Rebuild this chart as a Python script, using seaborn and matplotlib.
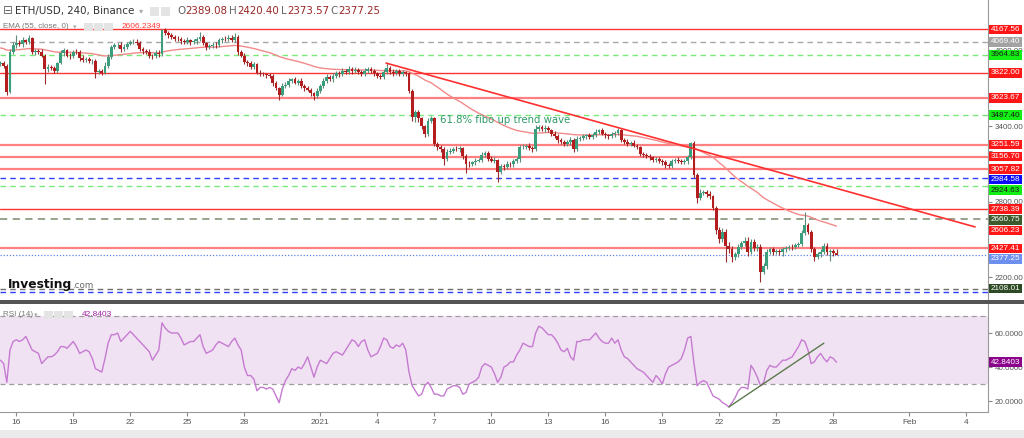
import numpy as np
import pandas as pd
import matplotlib
matplotlib.use("Agg")
import matplotlib.pyplot as plt
import seaborn as sns
from matplotlib.patches import Rectangle

# ---------------- data ----------------
start_time = "2021-12-15 04:00"
ref_day = "2021-12-16"
first_open = 3890.0

closes = [
    3900, 3880, 3670, 3990, 4040, 4060,
    4050, 4080, 4070, 4100, 3985, 3995,
    3990, 3960, 3850, 3870, 3860, 3840,
    3900, 3980, 4000, 3960, 3955, 3990,
    3985, 3940, 3925, 3930, 3915, 3920,
    3830, 3835, 3820, 3880, 3950, 4030,
    4040, 4045, 4010, 4030, 4055, 4065,
    4070, 4060, 4010, 3995, 3990, 3960,
    3955, 3980, 3970, 4160, 4140, 4120,
    4110, 4095, 4090, 4075, 4070, 4080,
    4065, 4075, 4090, 4110, 4060, 4030,
    4035, 4045, 4040, 4080, 4095, 4090,
    4100, 4085, 4110, 3985, 3960, 3910,
    3900, 3870, 3890, 3825, 3815, 3810,
    3805, 3800, 3740, 3700, 3650, 3720,
    3725, 3760, 3770, 3745, 3760, 3720,
    3700, 3690, 3660, 3640, 3680, 3720,
    3760, 3790, 3770, 3800, 3820, 3810,
    3840, 3830, 3850, 3835, 3845, 3830,
    3815, 3840, 3850, 3835, 3820, 3800,
    3790, 3830, 3860, 3830, 3820, 3835,
    3815, 3830, 3820, 3680, 3470, 3510,
    3460, 3400, 3340, 3440, 3460, 3260,
    3230, 3220, 3140, 3190, 3205, 3220,
    3215, 3225, 3160, 3100, 3095, 3110,
    3125, 3130, 3170, 3185, 3140, 3125,
    3130, 3035, 3080, 3075, 3100, 3095,
    3120, 3135, 3230, 3235, 3245, 3225,
    3215, 3380, 3390, 3375, 3385, 3365,
    3340, 3320, 3285, 3275, 3260, 3270,
    3290, 3220, 3300, 3305, 3320, 3325,
    3315, 3330, 3355, 3365, 3340, 3325,
    3320, 3335, 3345, 3365, 3290, 3275,
    3260, 3265, 3245, 3235, 3180, 3170,
    3160, 3150, 3130, 3135, 3120, 3110,
    3090, 3085, 3120, 3130, 3125, 3110,
    3120, 3150, 3265, 3010, 2830, 2870,
    2875, 2860, 2840, 2750, 2575, 2500,
    2560, 2450, 2420, 2360, 2380, 2440,
    2470, 2490, 2400, 2480, 2430, 2440,
    2240, 2290, 2400, 2420, 2400, 2405,
    2395, 2420, 2430, 2440, 2435, 2455,
    2465, 2550, 2610, 2560, 2420, 2360,
    2380, 2400, 2450, 2400, 2410, 2389.08,
    2377.25,
]

wick_up = [
    20, 15, 10, 25, 30, 60,
    20, 25, 15, 25, 10, 20,
    15, 20, 10, 25, 15, 20,
    10, 25, 20, 15, 20, 15,
    20, 15, 25, 15, 20, 15,
    10, 20, 15, 25, 20, 15,
    20, 15, 25, 20, 15, 20,
    25, 20, 15, 20, 15, 20,
    15, 20, 25, 10, 20, 15,
    20, 15, 20, 15, 20, 25,
    15, 20, 20, 40, 15, 10,
    15, 20, 25, 20, 15, 20,
    20, 25, 30, 10, 15, 20,
    15, 20, 15, 10, 20, 15,
    15, 20, 10, 15, 10, 20,
    25, 20, 15, 20, 15, 20,
    15, 20, 15, 10, 20, 15,
    20, 25, 15, 20, 15, 20,
    20, 15, 25, 15, 20, 15,
    15, 20, 15, 20, 15, 10,
    15, 20, 40, 15, 20, 15,
    20, 15, 10, 10, 15, 20,
    20, 15, 10, 25, 20, 10,
    15, 20, 10, 25, 20, 15,
    20, 15, 10, 15, 20, 15,
    20, 15, 25, 20, 15, 20,
    25, 10, 20, 15, 20, 15,
    20, 15, 20, 25, 15, 20,
    15, 30, 20, 15, 20, 15,
    15, 20, 15, 20, 15, 20,
    20, 15, 20, 15, 20, 15,
    20, 15, 20, 15, 20, 15,
    15, 20, 15, 20, 10, 15,
    20, 15, 20, 15, 10, 15,
    15, 20, 15, 20, 15, 15,
    20, 15, 20, 15, 20, 15,
    15, 20, 10, 15, 20, 30,
    20, 15, 20, 15, 15, 20,
    30, 20, 25, 30, 20, 25,
    20, 25, 30, 20, 25, 20,
    20, 25, 20, 15, 20, 15,
    20, 15, 20, 15, 20, 15,
    15, 20, 110, 20, 15, 20,
    20, 25, 20, 20, 15, 15,
    31.32,
]

wick_dn = [
    15, 20, 20, 10, 15, 20,
    15, 20, 15, 20, 15, 20,
    20, 15, 120, 20, 15, 20,
    15, 10, 20, 15, 20, 15,
    15, 20, 15, 20, 15, 20,
    50, 20, 15, 10, 20, 15,
    15, 20, 25, 15, 20, 15,
    15, 20, 15, 20, 15, 20,
    20, 15, 20, 10, 15, 20,
    15, 20, 15, 20, 15, 20,
    20, 15, 20, 15, 20, 25,
    20, 15, 20, 15, 20, 15,
    15, 20, 15, 20, 15, 20,
    20, 15, 20, 15, 20, 15,
    20, 15, 20, 15, 45, 15,
    20, 15, 20, 15, 20, 15,
    20, 15, 20, 30, 15, 20,
    15, 20, 15, 20, 15, 20,
    15, 20, 15, 20, 15, 20,
    20, 15, 20, 15, 20, 15,
    20, 15, 20, 15, 20, 15,
    20, 15, 20, 20, 30, 40,
    30, 20, 25, 20, 15, 20,
    20, 25, 50, 20, 15, 20,
    15, 20, 20, 70, 20, 15,
    20, 15, 20, 15, 20, 15,
    20, 80, 20, 25, 15, 20,
    20, 15, 20, 15, 20, 15,
    20, 15, 20, 15, 20, 15,
    20, 15, 20, 15, 20, 15,
    20, 30, 15, 20, 15, 20,
    15, 20, 15, 20, 15, 20,
    20, 15, 20, 15, 20, 15,
    15, 20, 15, 20, 20, 15,
    15, 20, 15, 20, 15, 20,
    20, 15, 20, 15, 20, 15,
    15, 20, 15, 20, 40, 20,
    20, 25, 20, 20, 30, 30,
    20, 130, 30, 40, 25, 20,
    20, 25, 30, 20, 25, 20,
    80, 20, 25, 20, 25, 20,
    20, 25, 20, 15, 20, 15,
    20, 15, 20, 20, 25, 30,
    20, 25, 20, 25, 70, 20,
    3.68,
]

# RSI(14) values as drawn in the lower panel
rsi_values = [
    44, 42, 31, 50, 55, 56,
    55, 56, 58, 54, 50, 49,
    48, 42, 44, 46, 46, 47,
    49, 52, 52, 51, 53, 55,
    52, 48, 49, 50, 49, 45,
    39, 38, 37, 45, 54, 59,
    59, 60, 55, 57, 59, 61,
    59, 57, 55, 53, 51, 49,
    44, 47, 50, 66, 63, 61,
    60, 60, 60, 57, 53, 54,
    55, 55, 57, 59, 52, 48,
    49, 50, 53, 55, 54, 53,
    52, 55, 57, 53, 50, 40,
    35, 35, 33, 26, 28, 28,
    27, 28, 27, 23, 19, 27,
    32, 35, 39, 38, 40, 39,
    42, 46, 40, 34, 40, 44,
    43, 42, 45, 48, 49, 48,
    47, 50, 53, 56, 55, 52,
    55, 56, 50, 46, 47, 48,
    52, 57, 56, 52, 51, 53,
    52, 54, 50, 37, 29, 26,
    23, 24, 29, 31, 28, 24,
    24, 23, 23, 27, 28, 29,
    29, 28, 24, 25, 30, 31,
    32, 34, 40, 42, 41, 40,
    36, 31, 34, 40, 41, 43,
    43, 47, 50, 54, 53, 52,
    52, 60, 64, 63, 61, 59,
    59, 57, 54, 50, 49, 51,
    46, 44, 55, 55, 56, 56,
    56, 58, 60, 57, 55, 54,
    54, 57, 54, 56, 50, 46,
    45, 43, 41, 39, 38, 37,
    35, 33, 31, 35, 33, 30,
    36, 40, 41, 42, 43, 45,
    50, 57, 58, 42, 29, 31,
    32, 31, 27, 23, 22, 21,
    19, 18, 16.5, 19, 22, 26,
    28, 28, 27, 41, 38, 34,
    29, 31, 38, 41, 40, 40,
    42, 44, 44, 45, 46, 49,
    52, 56, 55, 50, 42, 43,
    46, 48, 45, 43, 46, 45,
    42.8403,
]

ema_seed = 4020.0

level_prices = [4167.56, 4069.40, 3964.83, 3822.00, 3623.67, 3487.40, 3251.59,
                3156.70, 3057.82, 2984.58, 2924.63, 2738.39, 2660.75, 2427.41,
                2377.25, 2108.01, 2082.00]
level_kinds = ["res", "gray", "fib", "res", "res2", "fib", "res2",
               "res2", "res2", "blue", "fib", "res", "olive", "res2",
               "last", "dark", "blue"]
level_labeled = [True] * 16 + [False]
ema_label_value = 2606.23

trend_dates = ["2022-01-04 11:00", "2022-02-04 11:00"]
trend_prices = [3900, 2598]
rsi_trend_dates = ["2022-01-22 12:00", "2022-01-27 12:00"]
rsi_trend_values = [16.5, 54.0]
rsi_last = 42.8403

tick_dates = ["2021-12-16", "2021-12-19", "2021-12-22", "2021-12-25", "2021-12-28",
              "2022-01-01", "2022-01-04", "2022-01-07", "2022-01-10", "2022-01-13",
              "2022-01-16", "2022-01-19", "2022-01-22", "2022-01-25", "2022-01-28",
              "2022-02-01", "2022-02-04"]
tick_texts = ["16", "19", "22", "25", "28", "2021", "4", "7", "10", "13",
              "16", "19", "22", "25", "28", "Feb", "4"]
price_ticks = [2200, 2400, 2600, 2800, 3000, 3200, 3400, 3600, 3800, 4000, 4200]
price_tick_shown = [2200, 2800, 3400, 4000]

fibo_text = "61.8% fibo up trend wave"
fibo_pos = ("2022-01-07 07:00", 3450)

# ---------------- derived series ----------------
ref = pd.Timestamp(ref_day)
def to_day(ts):
    return (pd.to_datetime(ts) - ref) / pd.Timedelta(days=1)

times = pd.date_range(start_time, periods=len(closes), freq="4h")
d = np.asarray(to_day(times), dtype=float)
c = np.array(closes, dtype=float)
o = np.r_[first_open, c[:-1]]
hi = np.maximum(o, c) + np.array(wick_up, dtype=float)
lo = np.minimum(o, c) - np.array(wick_dn, dtype=float)

alpha = 2.0 / 56.0
ema = np.empty_like(c)
ema[0] = ema_seed
for i in range(1, len(c)):
    ema[i] = alpha * c[i] + (1 - alpha) * ema[i - 1]
rsi = np.array(rsi_values, dtype=float)

# ---------------- figure ----------------
sns.set_style("white")
plt.rcParams["font.family"] = ["DejaVu Sans"]
SMALL = ["Liberation Sans", "DejaVu Sans"]

W, H = 1024, 438
fig = plt.figure(figsize=(W / 100, H / 100), dpi=100)
fig.patch.set_facecolor("white")

def rect(l, t, r, b):
    return [l / W, 1 - b / H, (r - l) / W, (b - t) / H]

def fx(px):
    return px / W

def fy(py):
    return 1 - py / H

ax = fig.add_axes(rect(0, 0, 988, 299))
ax2 = fig.add_axes(rect(0, 304, 988, 412), sharex=ax)

XLIM = (-0.858, 51.14)
YLIM = (2025.2, 4401.3)
RLIM = (13.53, 77.06)

styles = {
    "res":   dict(color="#ff3535", ls="-", lw=1.0, bg="#ff1717", fg="white"),
    "res2":  dict(color="#ff8080", ls="-", lw=1.6, bg="#ff1717", fg="white"),
    "gray":  dict(color="#a8a8a8", ls=(0, (4, 3)), lw=1.0, bg="#a3a3a3", fg="white"),
    "fib":   dict(color="#7aea7a", ls=(0, (4, 3)), lw=1.0, bg="#13ee13", fg="#1a1a1a"),
    "blue":  dict(color="#3040ff", ls=(0, (4, 3)), lw=1.0, bg="#0b0bff", fg="white"),
    "olive": dict(color="#8d9c83", ls=(0, (4, 3)), lw=1.3, bg="#3d5a2c", fg="white"),
    "last":  dict(color="#5f84e6", ls=(0, (1, 1.5)), lw=0.9, bg="#6d90ef", fg="white"),
    "dark":  dict(color="#707070", ls=(0, (4, 3)), lw=1.0, bg="#2e4a24", fg="white"),
}

for p, k in zip(level_prices, level_kinds):
    s = styles[k]
    ax.axhline(p, color=s["color"], ls=s["ls"], lw=s["lw"], zorder=1)

# candles
up = c >= o
ax.vlines(d, lo, hi, colors=np.where(up, "#5f8c78", "#9b2a2a"), lw=0.8, zorder=3)
ax.bar(d, np.maximum(np.abs(c - o), 5), bottom=np.minimum(o, c), width=0.15,
       color=np.where(up, "#3a9e7d", "#b31d1d"), lw=0, zorder=4)

# EMA
sns.lineplot(x=d, y=ema, ax=ax, color="#f28a8a", lw=1.0, zorder=2, legend=False)

# trend line
ax.plot(to_day(trend_dates), trend_prices, color="#ff3030", lw=1.2, zorder=5)

ax.text(to_day(fibo_pos[0]), fibo_pos[1], fibo_text, color="#2f9a6a",
        fontsize=7.3, va="center", ha="left", zorder=6)

ax.set_xlim(*XLIM)
ax.set_ylim(*YLIM)
ax.yaxis.tick_right()
ax.set_yticks(price_ticks)
ax.set_yticklabels([f"{t:.2f}" if t in price_tick_shown else "" for t in price_ticks],
                   family=SMALL)
ax.tick_params(axis="y", right=True, length=3, width=0.8, color="#888888",
               labelsize=5.8, labelcolor="#555555", pad=2)
ax.tick_params(axis="x", bottom=False, labelbottom=False)
for sp in ["top", "left", "bottom"]:
    ax.spines[sp].set_visible(False)
ax.spines["right"].set_color("#999999")
ax.spines["right"].set_linewidth(0.8)
ax.set_xlabel("")
ax.set_ylabel("")

# RSI panel
ax2.axhspan(30, 70, color="#f0e2f2", zorder=0, lw=0)
ax2.axhline(70, color="#9e9e9e", ls=(0, (4, 3)), lw=0.9, zorder=1)
ax2.axhline(30, color="#9e9e9e", ls=(0, (4, 3)), lw=0.9, zorder=1)
sns.lineplot(x=d, y=rsi, ax=ax2, color="#c67ad2", lw=1.0, zorder=3, legend=False)
ax2.plot(to_day(rsi_trend_dates), rsi_trend_values, color="#5b7b4b", lw=1.0, zorder=4)
ax2.set_ylim(*RLIM)
ax2.set_xlim(*XLIM)
ax2.yaxis.tick_right()
ax2.set_yticks([20, 40, 60])
ax2.set_yticklabels(["20.0000", "40.0000", "60.0000"], family=SMALL)
ax2.tick_params(axis="y", right=True, length=3, width=0.8, color="#888888",
                labelsize=5.8, labelcolor="#555555", pad=2)
ax2.set_xticks(to_day(tick_dates))
ax2.set_xticklabels(tick_texts, family=SMALL)
ax2.tick_params(axis="x", bottom=True, length=3, width=0.8, color="#888888",
                labelsize=6, labelcolor="#555555", pad=2)
for sp in ["top", "left"]:
    ax2.spines[sp].set_visible(False)
for sp in ["right", "bottom"]:
    ax2.spines[sp].set_color("#999999")
    ax2.spines[sp].set_linewidth(0.8)
ax2.set_xlabel("")
ax2.set_ylabel("")

# separators / strips
fig.add_artist(Rectangle((0, fy(304)), 1, 4.5 / H, transform=fig.transFigure,
                         color="#545454", lw=0, zorder=5))
fig.add_artist(Rectangle((0, 0), 1, 8 / H, transform=fig.transFigure,
                         color="#ebebeb", lw=0, zorder=5))

# price labels on the right axis
def price_to_px(p):
    return (YLIM[1] - p) / (YLIM[1] - YLIM[0]) * 299

labels = []
for p, k, show in zip(level_prices, level_kinds, level_labeled):
    if show:
        labels.append((p, f"{p:.2f}", styles[k]["bg"], styles[k]["fg"]))
labels.append((ema_label_value, f"{ema_label_value:.2f}", "#ff1717", "white"))
labels.sort(key=lambda t: -t[0])
prev = -100
for p, txt, bg, fg in labels:
    y = max(price_to_px(p), prev + 10.6)
    prev = y
    fig.add_artist(Rectangle((fx(989), fy(y + 4.8)), 33 / W, 9.6 / H,
                             transform=fig.transFigure, color=bg, lw=0, zorder=6))
    fig.text(fx(1005.5), fy(y), txt, color=fg, fontsize=5.9, ha="center",
             va="center", zorder=7, family=SMALL)

# RSI label
ry = 304 + (RLIM[1] - rsi_last) / (RLIM[1] - RLIM[0]) * 108
fig.add_artist(Rectangle((fx(989), fy(ry + 4.8)), 33 / W, 9.6 / H,
                         transform=fig.transFigure, color="#8b038b", lw=0, zorder=6))
fig.text(fx(1005.5), fy(ry), f"{rsi_last:.4f}", color="white", fontsize=5.9,
         ha="center", va="center", zorder=7, family=SMALL)

# header texts
def icons(x0, yc, n, size=9, gap=1.5):
    for j in range(n):
        fig.add_artist(Rectangle((fx(x0 + j * (size + gap)), fy(yc + size / 2)),
                                 size / W, size / H, transform=fig.transFigure,
                                 color="#e4e4e4", lw=0, zorder=6))

fig.text(fx(3), fy(11), "\u229f", fontsize=8.5, color="#666666", va="center", zorder=7)
fig.text(fx(15), fy(11), "ETH/USD, 240, Binance", fontsize=7.4, color="#333333",
         va="center", zorder=7)
fig.text(fx(139), fy(11), "\u25be", fontsize=6, color="#aaaaaa", va="center", zorder=7)
icons(150, 11, 2, size=9)
ohlc_letters = ["O", "H", "L", "C"]
ohlc_values = ["2389.08", "2420.40", "2373.57", "2377.25"]
ohlc_x = [177, 229, 281, 330]
ohlc_off = [8, 8, 6, 8]
for L_, v_, x_, off in zip(ohlc_letters, ohlc_values, ohlc_x, ohlc_off):
    fig.text(fx(x_), fy(11), L_, fontsize=7.4, color="#666666", va="center", zorder=7)
    fig.text(fx(x_ + off), fy(11), v_, fontsize=7.4, color="#9b2626", va="center", zorder=7)

fig.text(fx(3), fy(27), "EMA (55, close, 0)", fontsize=5.8, color="#777777",
         va="center", zorder=7, family=SMALL)
fig.text(fx(73), fy(27), "\u25be", fontsize=5, color="#aaaaaa", va="center", zorder=7)
icons(84, 27, 3, size=8.5)
fig.text(fx(122), fy(27), "2606.2349", fontsize=6.0, color="#ff3b3b", va="center",
         zorder=7, family=SMALL)

fig.text(fx(3), fy(315), "RSI (14)", fontsize=5.8, color="#777777", va="center",
         zorder=7, family=SMALL)
fig.text(fx(34), fy(315), "\u25be", fontsize=5, color="#aaaaaa", va="center", zorder=7)
icons(44, 315, 3, size=8.5)
fig.text(fx(82), fy(315), "42.8403", fontsize=6.0, color="#a01fa0", va="center",
         zorder=7, family=SMALL)

# Investing.com logo
fig.text(fx(8), fy(288), "Investing", fontsize=8.8, fontweight="bold", color="#111111",
         va="baseline", zorder=7)
fig.text(fx(72), fy(288), ".com", fontsize=6.3, color="#666666", va="baseline", zorder=7)

fig.savefig("out.png", dpi=100)
